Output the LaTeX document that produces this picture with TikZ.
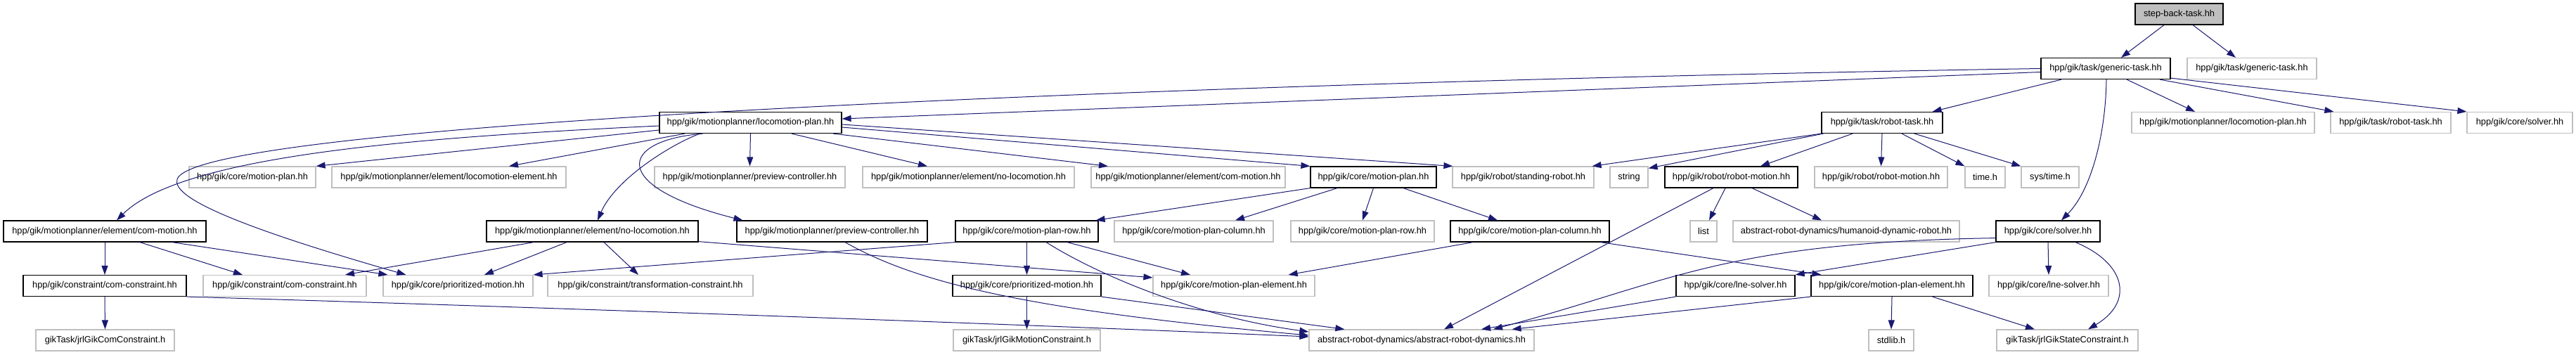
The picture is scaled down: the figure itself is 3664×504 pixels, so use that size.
\documentclass[tikz,border=0pt]{standalone}
\usepackage{fontspec}
\setmainfont{Liberation Sans}
\usepackage{tikz}
\usetikzlibrary{arrows.meta}
\usepackage{xcolor}
\definecolor{depblue}{HTML}{191970}
\definecolor{extgray}{HTML}{BFBFBF}

\begin{document}
\begin{tikzpicture}[x=1pt,y=-1pt]
  \tikzset{filebox/.style={fill=white,line width=1.2pt,minimum height=30pt,inner sep=0pt,font=\fontsize{12.8}{15}\selectfont}}
  \tikzset{docnode/.style={filebox,draw=black}}
  \tikzset{extnode/.style={filebox,draw=extgray}}
  \tikzset{rootnode/.style={filebox,draw=black,fill=extgray}}
  \tikzset{depedge/.style={draw=depblue,line width=1pt,-{Triangle[length=13pt,width=9pt]}}}
  \useasboundingbox (0,0) rectangle (3664,504);
  \node[rootnode,minimum width=125pt] (n0) at (3099.5,20) {step-back-task.hh};
  \node[docnode,minimum width=184pt] (n1) at (2995,97.5) {hpp/gik/task/generic-task.hh};
  \node[extnode,minimum width=184pt] (n2) at (3203,97.5) {hpp/gik/task/generic-task.hh};
  \node[docnode,minimum width=259pt] (n3) at (1067.5,174.5) {hpp/gik/motionplanner/locomotion-plan.hh};
  \node[docnode,minimum width=172pt] (n4) at (2677,174.5) {hpp/gik/task/robot-task.hh};
  \node[extnode,minimum width=260pt] (n5) at (3162,174.5) {hpp/gik/motionplanner/locomotion-plan.hh};
  \node[extnode,minimum width=171pt] (n6) at (3400.5,174.5) {hpp/gik/task/robot-task.hh};
  \node[extnode,minimum width=150pt] (n7) at (3584,174.5) {hpp/gik/core/solver.hh};
  \node[extnode,minimum width=180pt] (n8) at (359,252) {hpp/gik/core/motion-plan.hh};
  \node[extnode,minimum width=333pt] (n9) at (638.5,252) {hpp/gik/motionplanner/element/locomotion-element.hh};
  \node[extnode,minimum width=271pt] (n10) at (1066.5,252) {hpp/gik/motionplanner/preview-controller.hh};
  \node[extnode,minimum width=301pt] (n11) at (1377.5,252) {hpp/gik/motionplanner/element/no-locomotion.hh};
  \node[extnode,minimum width=276pt] (n12) at (1690,252) {hpp/gik/motionplanner/element/com-motion.hh};
  \node[docnode,minimum width=179pt] (n13) at (1953.5,252) {hpp/gik/core/motion-plan.hh};
  \node[extnode,minimum width=201pt] (n14) at (2166.5,252) {hpp/gik/robot/standing-robot.hh};
  \node[extnode,minimum width=54pt] (n15) at (2317,252) {string};
  \node[docnode,minimum width=189pt] (n16) at (2462.5,252) {hpp/gik/robot/robot-motion.hh};
  \node[extnode,minimum width=189pt] (n17) at (2675.5,252) {hpp/gik/robot/robot-motion.hh};
  \node[extnode,minimum width=57pt] (n18) at (2823.5,252) {time.h};
  \node[extnode,minimum width=82pt] (n19) at (2916,252) {sys/time.h};
  \node[docnode,minimum width=288pt] (n20) at (149,329) {hpp/gik/motionplanner/element/com-motion.hh};
  \node[docnode,minimum width=301pt] (n21) at (842.5,329) {hpp/gik/motionplanner/element/no-locomotion.hh};
  \node[docnode,minimum width=271pt] (n22) at (1183.5,329) {hpp/gik/motionplanner/preview-controller.hh};
  \node[docnode,minimum width=203pt] (n23) at (1460.5,329) {hpp/gik/core/motion-plan-row.hh};
  \node[extnode,minimum width=226pt] (n24) at (1698,329) {hpp/gik/core/motion-plan-column.hh};
  \node[extnode,minimum width=204pt] (n25) at (1938,329) {hpp/gik/core/motion-plan-row.hh};
  \node[docnode,minimum width=226pt] (n26) at (2176,329) {hpp/gik/core/motion-plan-column.hh};
  \node[extnode,minimum width=38pt] (n27) at (2423,329) {list};
  \node[extnode,minimum width=322pt] (n28) at (2626,329) {abstract-robot-dynamics/humanoid-dynamic-robot.hh};
  \node[docnode,minimum width=148pt] (n29) at (2913,329) {hpp/gik/core/solver.hh};
  \node[docnode,minimum width=232pt] (n30) at (149,406.5) {hpp/gik/constraint/com-constraint.hh};
  \node[extnode,minimum width=232pt] (n31) at (405,406.5) {hpp/gik/constraint/com-constraint.hh};
  \node[extnode,minimum width=213pt] (n32) at (651.5,406.5) {hpp/gik/core/prioritized-motion.hh};
  \node[extnode,minimum width=292pt] (n33) at (925,406.5) {hpp/gik/constraint/transformation-constraint.hh};
  \node[docnode,minimum width=211pt] (n34) at (1460.5,406.5) {hpp/gik/core/prioritized-motion.hh};
  \node[extnode,minimum width=230pt] (n35) at (1755,406.5) {hpp/gik/core/motion-plan-element.hh};
  \node[docnode,minimum width=169pt] (n36) at (2468.5,406.5) {hpp/gik/core/lne-solver.hh};
  \node[docnode,minimum width=230pt] (n37) at (2691,406.5) {hpp/gik/core/motion-plan-element.hh};
  \node[extnode,minimum width=170pt] (n38) at (2914,406.5) {hpp/gik/core/lne-solver.hh};
  \node[extnode,minimum width=197pt] (n39) at (149.5,484) {gikTask/jrlGikComConstraint.h};
  \node[extnode,minimum width=209pt] (n40) at (1460.5,484) {gikTask/jrlGikMotionConstraint.h};
  \node[extnode,minimum width=320pt] (n41) at (2022,484) {abstract-robot-dynamics/abstract-robot-dynamics.hh};
  \node[extnode,minimum width=64pt] (n42) at (2690,484) {stdlib.h};
  \node[extnode,minimum width=201pt] (n43) at (2940.5,484) {gikTask/jrlGikStateConstraint.h};
  \draw[depedge] ([xshift=-21.5pt]n0.south) -- ([xshift=22pt]n1.north);
  \draw[depedge] ([xshift=19.5pt]n0.south) -- ([xshift=-23pt]n2.north);
  \draw[depedge] ([yshift=-5pt]n1.west) -- ([yshift=5.5pt]n3.east);
  \draw[depedge] (n1.west) .. controls (1800,115) and (280,170) .. (252,255) .. controls (244,280) and (330,320) .. ([xshift=33pt]n32.north west);
  \draw[depedge] ([xshift=-63pt]n1.south) -- ([xshift=-15pt]n4.north east);
  \draw[depedge] ([xshift=1pt]n1.south) .. controls (2995,190) and (2975,270) .. ([xshift=19pt]n29.north);
  \draw[depedge] ([xshift=30pt]n1.south) -- ([xshift=-40pt]n5.north);
  \draw[depedge] ([xshift=77pt]n1.south) -- ([xshift=5pt]n6.north west);
  \draw[depedge] ([yshift=2pt]n1.south east) -- (n7.north west);
  \draw[depedge] ([yshift=-4.5pt]n3.west) .. controls (600,195) and (260,220) .. ([xshift=17pt]n20.north);
  \draw[depedge] ([yshift=-10.5pt]n3.west) -- (n8.north east);
  \draw[depedge] ([xshift=-93.5pt]n3.south) -- ([xshift=85.5pt]n9.north);
  \draw[depedge] (n3.south) -- (n10.north);
  \draw[depedge] ([xshift=58.5pt]n3.south) -- ([xshift=-58.5pt]n11.north);
  \draw[depedge] ([xshift=117.5pt]n3.south) -- ([xshift=-114pt]n12.north);
  \draw[depedge] ([yshift=-2.5pt]n3.east) -- ([xshift=1pt]n14.north west);
  \draw[depedge] ([yshift=-6.5pt]n3.east) -- (n13.north west);
  \draw[depedge] ([xshift=-72pt]n3.south) .. controls (955,205) and (875,255) .. ([xshift=7.5pt]n21.north);
  \draw[depedge] ([xshift=-68pt]n3.south) .. controls (880,200) and (865,265) .. ([xshift=-127pt]n22.north);
  \draw[depedge] (n4.south west) -- ([xshift=-3pt]n14.north east);
  \draw[depedge] ([xshift=3pt]n4.south west) -- ([yshift=-3pt]n15.north east);
  \draw[depedge] ([xshift=-42pt]n4.south) -- ([xshift=41.5pt]n16.north);
  \draw[depedge] (n4.south) -- (n17.north);
  \draw[depedge] ([xshift=28pt]n4.south) -- (n18.north west);
  \draw[depedge] ([xshift=46pt]n4.south) -- (n19.north west);
  \draw[depedge] (n13.south west) -- ([xshift=-4pt]n23.north east);
  \draw[depedge] ([xshift=-51.5pt]n13.south) -- ([xshift=59pt]n24.north);
  \draw[depedge] (n13.south) -- (n25.north);
  \draw[depedge] ([xshift=42.5pt]n13.south) -- ([xshift=-46pt]n26.north);
  \draw[depedge] ([xshift=-25.5pt]n16.south) -- ([xshift=32pt]n41.north);
  \draw[depedge] ([xshift=-8.5pt]n16.south) -- ([xshift=8pt]n27.north);
  \draw[depedge] ([xshift=29.5pt]n16.south) -- ([xshift=-35pt]n28.north);
  \draw[depedge] ([xshift=-81pt]n26.south) -- ([xshift=-38pt]n35.north east);
  \draw[depedge] ([xshift=-13pt]n26.south east) -- ([xshift=15pt]n37.north west);
  \draw[depedge] (n29.south west) -- (n36.north east);
  \draw[depedge] ([yshift=6pt]n29.south west) .. controls (2450,345) and (2380,400) .. ([xshift=102pt]n41.north);
  \draw[depedge] (n29.south) -- (n38.north);
  \draw[depedge] ([xshift=39pt]n29.south) .. controls (3025,375) and (3035,430) .. ([xshift=29.5pt]n43.north);
  \draw[depedge] (n36.south west) -- ([xshift=85pt]n41.north);
  \draw[depedge] (n37.south west) -- ([xshift=-32pt]n41.north east);
  \draw[depedge] (n37.south) -- (n42.north);
  \draw[depedge] ([xshift=-58pt]n37.south east) -- ([xshift=-46.5pt]n43.north);
  \draw[depedge] (n23.south west) -- (n32.north east);
  \draw[depedge] (n23.south) -- (n34.north);
  \draw[depedge] ([xshift=57.5pt]n23.south) -- ([xshift=-62pt]n35.north);
  \draw[depedge] ([xshift=27.5pt]n23.south) .. controls (1560,390) and (1700,450) .. ([yshift=12pt]n41.west);
  \draw[depedge] (n30.south east) .. controls (600,432) and (1300,455) .. ([yshift=5pt]n41.west);
  \draw[depedge] ([xshift=18.5pt]n22.south) .. controls (1300,400) and (1450,440) .. ([yshift=7pt]n41.west);
  \draw[depedge] (n34.south east) -- ([xshift=51pt]n41.north west);
  \draw[depedge] (n34.south) -- (n40.north);
  \draw[depedge] (n20.south) -- (n30.north);
  \draw[depedge] ([xshift=50pt]n20.south) -- ([xshift=-60pt]n31.north);
  \draw[depedge] ([xshift=96pt]n20.south) -- ([xshift=7pt]n32.north west);
  \draw[depedge] (n30.south) -- (n39.north);
  \draw[depedge] ([xshift=-83.5pt]n21.south) -- ([xshift=86pt]n31.north);
  \draw[depedge] ([xshift=-36.5pt]n21.south) -- ([xshift=37.5pt]n32.north);
  \draw[depedge] ([xshift=16.5pt]n21.south) -- ([xshift=-17pt]n33.north);
  \draw[depedge] ([yshift=1pt]n21.south east) -- ([yshift=-4pt]n35.north west);
\end{tikzpicture}
\end{document}
